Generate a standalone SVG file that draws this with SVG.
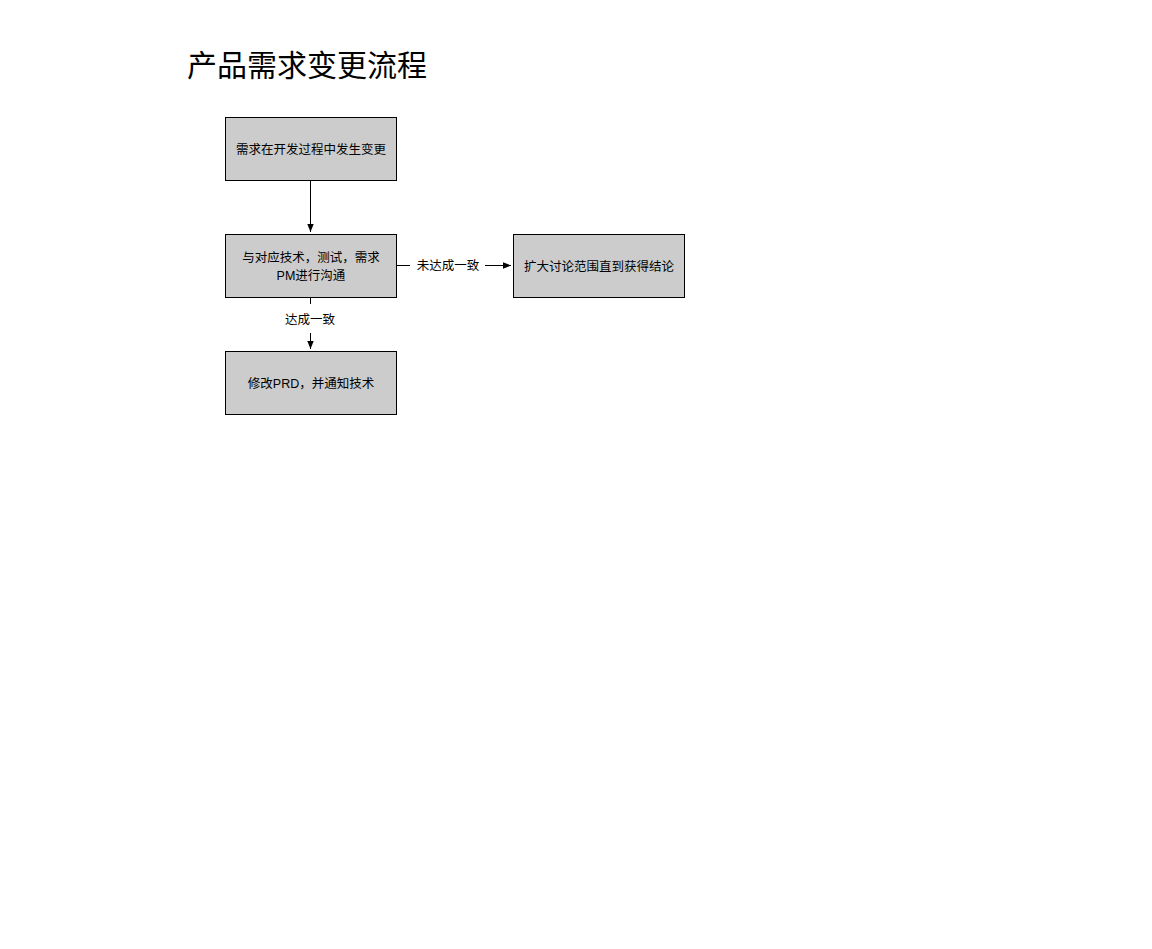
<svg xmlns="http://www.w3.org/2000/svg" width="1152" height="949" viewBox="0 0 1152 949">
<style>
.n{fill:#cccccc;stroke:#000;stroke-width:1}
.t{font-family:"Liberation Sans","Noto Sans CJK SC",sans-serif;font-size:12.5px;fill:#000;text-anchor:middle}
.c{stroke:#000;stroke-width:1;fill:none}
</style>
<defs><marker id="a" viewBox="0 0 10 10" refX="10" refY="5" markerWidth="8" markerHeight="8" markerUnits="userSpaceOnUse" orient="auto"><path d="M0,1 L10,5 L0,9 Z" fill="#000"/></marker></defs>
<rect width="1152" height="949" fill="#fff"/>
<text x="187" y="76" style="font-family:'Liberation Sans','Noto Sans CJK SC',sans-serif;font-size:30px">产品需求变更流程</text>
<g id="edges">
<line class="c" x1="310.5" y1="181" x2="310.5" y2="232" marker-end="url(#a)"/>
<line class="c" x1="397" y1="265.5" x2="410" y2="265.5"/>
<text class="t" x="448" y="270">未达成一致</text>
<line class="c" x1="485" y1="265.5" x2="511" y2="265.5" marker-end="url(#a)"/>
<line class="c" x1="310.5" y1="298" x2="310.5" y2="304"/>
<text class="t" x="310" y="324">达成一致</text>
<line class="c" x1="310.5" y1="333" x2="310.5" y2="349" marker-end="url(#a)"/>
</g>
<g id="n1"><rect class="n" x="225.5" y="117.5" width="171" height="63"/><text class="t" x="311" y="154">需求在开发过程中发生变更</text></g>
<g id="n2"><rect class="n" x="225.5" y="234.5" width="171" height="63"/><text class="t" x="311" y="262">与对应技术，测试，需求</text><text class="t" x="311" y="280">PM进行沟通</text></g>
<g id="n3"><rect class="n" x="513.5" y="234.5" width="171" height="63"/><text class="t" x="599" y="271">扩大讨论范围直到获得结论</text></g>
<g id="n4"><rect class="n" x="225.5" y="351.5" width="171" height="63"/><text class="t" x="311" y="388">修改PRD，并通知技术</text></g>
</svg>
